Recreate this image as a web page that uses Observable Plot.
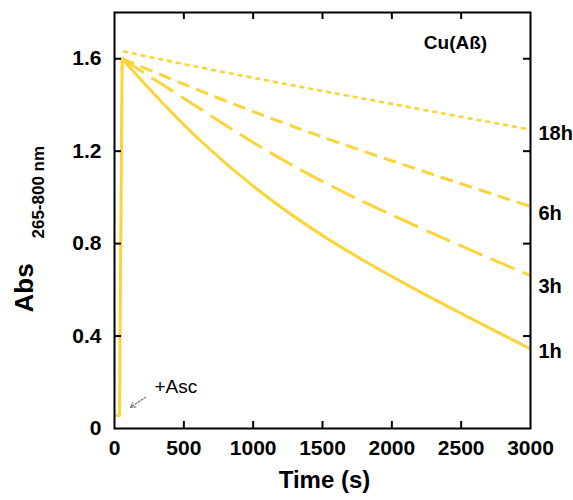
<!DOCTYPE html>
<html><head><meta charset="utf-8">
<script src="https://cdn.jsdelivr.net/npm/d3@7"></script>
<script src="https://cdn.jsdelivr.net/npm/@observablehq/plot@0.6"></script>
<style>body{margin:0;background:#fff}</style>
</head><body><div id="chart"></div>
<script>
// ---- data ----
const seriesNames = ["1h", "3h", "6h", "18h"];
const riseT = [14, 36, 55];
const riseA = [0.056, 0.056, 1.6];
const t1h  = [55, 620, 1558, 3000];
const a1h  = [1.6, 1.245, 0.813, 0.344];
const t3h  = [55, 620, 1558, 3000];
const a3h  = [1.6, 1.382, 1.051, 0.661];
const t6h  = [55, 620, 1558, 3000];
const a6h  = [1.6, 1.461, 1.249, 0.961];
const t18h = [62, 620, 1558, 3000];
const a18h = [1.632, 1.562, 1.454, 1.293];
const xTicks = [0, 500, 1000, 1500, 2000, 2500, 3000];
const yTicks = [0, 0.4, 0.8, 1.2, 1.6];
const yTickLabels = ["0", "0.4", "0.8", "1.2", "1.6"];
const panelTitle = "Cu(Aß)";
const ascArrowFrom = [224, 0.135];
const ascArrowTo = [115, 0.092];
const ascLabelAt = [288, 0.18];
const ascLabel = "+Asc";

// ---- build ----
const tSeries = [t1h, t3h, t6h, t18h];
const aSeries = [a1h, a3h, a6h, a18h];
const dashes = [null, "26,9", "13,7", "5,4"];
const widths = [3, 3, 3, 2.6];
const labelNudge = [3, 11, 7, 4];
const yellow = "#FAD43A";

const W = 573, H = 500, mL = 114, mR = 43, mT = 12, mB = 72;
const pw = W - mL - mR, ph = H - mT - mB;
const inner = xTicks.slice(1, -1);
const innerY = yTicks.slice(1);

const riseRows = riseT.map((t, j) => ({t, a: riseA[j]}));
const lineMarks = seriesNames.map((name, i) => {
  const rows = tSeries[i].map((t, j) => ({t, a: aSeries[i][j]}));
  return Plot.line(rows, {x: "t", y: "a", stroke: yellow, strokeWidth: widths[i],
    strokeDasharray: dashes[i], curve: "natural", strokeLinecap: "butt"});
});
const labelMarks = seriesNames.map((name, i) => {
  const n = tSeries[i].length - 1;
  return Plot.text([name], {x: () => tSeries[i][n], y: () => aSeries[i][n], dx: 8, dy: labelNudge[i],
    textAnchor: "start", fontSize: 20, fontWeight: "bold", fill: "#000"});
});

const chart = Plot.plot({
  width: W, height: H,
  marginLeft: mL, marginRight: mR, marginTop: mT, marginBottom: mB,
  x: {domain: [0, 3000]},
  y: {domain: [0, 1.8]},
  style: {fontFamily: "'Liberation Sans', Arial, sans-serif", color: "#000", background: "#fff"},
  marks: [
    Plot.line(riseRows, {x: "t", y: "a", stroke: yellow, strokeWidth: 3, curve: "linear"}),
    ...lineMarks,
    Plot.frame({stroke: "#000", strokeWidth: 2}),
    Plot.tickX(inner, {x: d => d, insetTop: ph - 7, stroke: "#000", strokeWidth: 2}),
    Plot.tickX(inner, {x: d => d, insetBottom: ph - 7, stroke: "#000", strokeWidth: 2}),
    Plot.tickY(innerY, {y: d => d, insetRight: pw - 7, stroke: "#000", strokeWidth: 2}),
    Plot.tickY(innerY, {y: d => d, insetLeft: pw - 7, stroke: "#000", strokeWidth: 2}),
    Plot.axisX(xTicks, {tickSize: 0, tickPadding: 12, fontSize: 21, fontWeight: "bold", label: null, tickFormat: d => String(d)}),
    Plot.axisY(yTicks, {tickSize: 0, tickPadding: 13, fontSize: 21, fontWeight: "bold", label: null, tickFormat: (d, i) => yTickLabels[i]}),
    ...labelMarks,
    Plot.text([panelTitle], {frameAnchor: "top-right", dx: -75, dy: 23, textAnchor: "middle", fontSize: 19, fontWeight: "bold"}),
    Plot.arrow([0], {x1: () => ascArrowFrom[0], y1: () => ascArrowFrom[1], x2: () => ascArrowTo[0], y2: () => ascArrowTo[1],
      stroke: "#444", strokeWidth: 1, strokeDasharray: "2,1.5", headLength: 8}),
    Plot.text([ascLabel], {x: () => ascLabelAt[0], y: () => ascLabelAt[1], textAnchor: "start", fontSize: 19, fill: "#000"}),
    Plot.text(["Time (s)"], {frameAnchor: "bottom", dx: 2, dy: 59, fontSize: 24, fontWeight: "bold"}),
    Plot.text(["Abs"], {frameAnchor: "left", rotate: -90, textAnchor: "start", dx: -90, dy: 92, fontSize: 26, fontWeight: "bold"}),
    Plot.text(["265-800 nm"], {frameAnchor: "left", rotate: -90, textAnchor: "start", dx: -76, dy: 18, fontSize: 17, fontWeight: "bold"})
  ]
});
document.getElementById("chart").appendChild(chart);
</script>
</body></html>
